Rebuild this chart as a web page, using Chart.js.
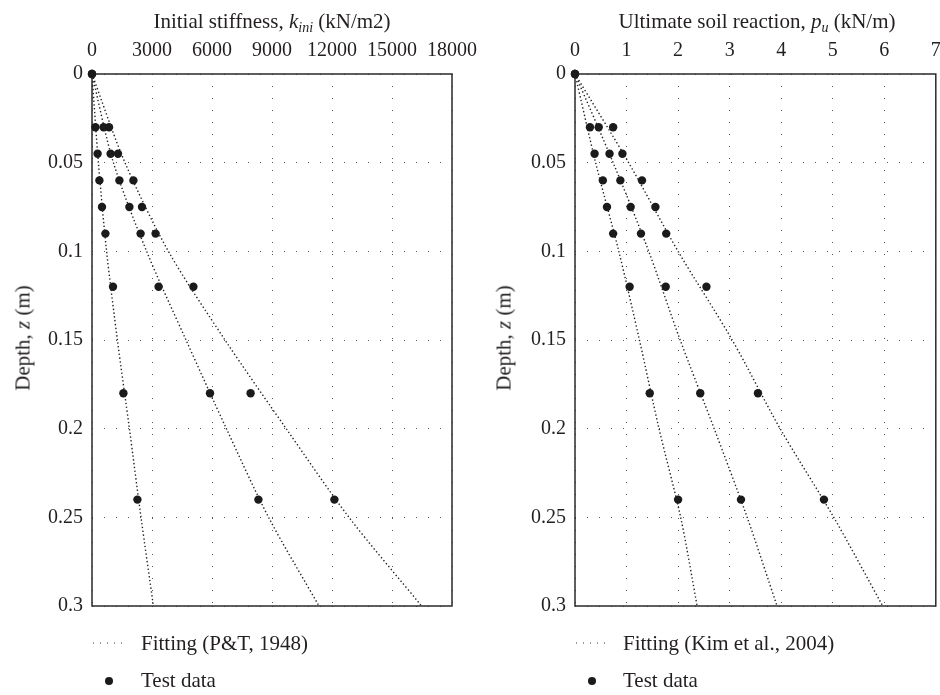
<!DOCTYPE html>
<html>
<head>
<meta charset="utf-8">
<script src="https://cdn.jsdelivr.net/npm/chart.js@4.4.0/dist/chart.umd.min.js"></script>
<style>
  body { margin: 0; background: #fff; font-family: 'Liberation Serif', serif; color: #231f20; }
  #page { position: relative; width: 940px; height: 695px; overflow: hidden; }
  .panel { position: absolute; top: 0; height: 695px; }
  .panel canvas { position: absolute; left: 0; top: 0; }
  .ttl { position: absolute; top: 9px; font-size: 21px; line-height: 24px; white-space: nowrap; transform: translateX(-50%); }
  .ttl sub { font-size: 14px; vertical-align: -4px; line-height: 0; }
  .ytl { position: absolute; top: 338px; font-size: 21px; white-space: nowrap; transform: translate(-50%, -50%) rotate(-90deg); }
  .leg { position: absolute; font-size: 21px; line-height: 22px; white-space: nowrap; transform: translateY(-50%); }
  .sample { position: absolute; transform: translate(-50%, -50%); }
</style>
</head>
<body>
<div id="page">
  <div class="panel" style="left:0;width:520px"><canvas id="kChart" width="520" height="695"></canvas></div>
  <div class="panel" style="left:470px;width:470px"><canvas id="pChart" width="470" height="695"></canvas></div>

  <div class="ttl" style="left:272px">Initial stiffness, <i>k<sub>ini</sub></i> (kN/m2)</div>
  <div class="ttl" style="left:757px">Ultimate soil reaction, <i>p<sub>u</sub></i> (kN/m)</div>
  <div class="ytl" style="left:23px">Depth, <i>z</i> (m)</div>
  <div class="ytl" style="left:504px">Depth, <i>z</i> (m)</div>

  <svg class="sample" style="left:110px;top:643px" width="36" height="4"><line x1="1" y1="2" x2="36" y2="2" stroke="#333" stroke-width="1.2" stroke-dasharray="1,6"/></svg>
  <div class="leg" style="left:141px;top:643px">Fitting (P&amp;T, 1948)</div>
  <svg class="sample" style="left:109px;top:681px" width="10" height="10"><circle cx="5" cy="5" r="4" fill="#1a1a1a"/></svg>
  <div class="leg" style="left:141px;top:680px">Test data</div>

  <svg class="sample" style="left:593px;top:643px" width="36" height="4"><line x1="1" y1="2" x2="36" y2="2" stroke="#333" stroke-width="1.2" stroke-dasharray="1,6"/></svg>
  <div class="leg" style="left:623px;top:643px">Fitting (Kim et al., 2004)</div>
  <svg class="sample" style="left:592px;top:681px" width="10" height="10"><circle cx="5" cy="5" r="4" fill="#1a1a1a"/></svg>
  <div class="leg" style="left:623px;top:680px">Test data</div>
</div>

<script>
// depths of the test points (m), origin included
const depths = [0, 0.03, 0.045, 0.06, 0.075, 0.09, 0.12, 0.18, 0.24];
const depthLabels = ['0', '0.05', '0.1', '0.15', '0.2', '0.25', '0.3'];

// initial stiffness test data (kN/m2)
const kTest1 = [0, 170, 280, 370, 500, 670, 1050, 1570, 2270];
const kTest2 = [0, 580, 930, 1370, 1870, 2430, 3330, 5900, 8320];
const kTest3 = [0, 850, 1300, 2070, 2500, 3180, 5070, 7930, 12120];

// ultimate soil reaction test data (kN/m)
const pTest1 = [0, 0.29, 0.38, 0.54, 0.62, 0.74, 1.06, 1.45, 2.0];
const pTest2 = [0, 0.46, 0.67, 0.88, 1.08, 1.28, 1.76, 2.43, 3.22];
const pTest3 = [0, 0.74, 0.92, 1.3, 1.56, 1.77, 2.55, 3.55, 4.83];

// fitting curves, read at these depths
const fitDepths = [0, 0.05, 0.1, 0.15, 0.2, 0.25, 0.3];
const kFit1 = [0, 320, 730, 1270, 1870, 2450, 3070];
const kFit2 = [0, 1070, 2730, 4700, 6720, 8830, 11350];
const kFit3 = [0, 1650, 3820, 6650, 9710, 12850, 16480];
const pFit1 = [0, 0.40, 0.85, 1.25, 1.63, 2.05, 2.37];
const pFit2 = [0, 0.74, 1.43, 2.04, 2.70, 3.34, 3.92];
const pFit3 = [0, 1.04, 2.0, 3.05, 3.98, 5.02, 5.97];

const kTicks = ['0', '3000', '6000', '9000', '12000', '15000', '18000'];
const pTicks = ['0', '1', '2', '3', '4', '5', '6', '7'];

const INK = '#231f20';
const tickFont = { family: 'Liberation Serif', size: 20 };

// solid box round the plot area
const frame = {
  id: 'frame',
  beforeDatasetsDraw(chart) {
    const a = chart.chartArea, ctx = chart.ctx;
    ctx.save();
    ctx.strokeStyle = '#2a2a2a';
    ctx.lineWidth = 1.5;
    ctx.strokeRect(a.left, a.top, a.right - a.left, a.bottom - a.top);
    ctx.restore();
  }
};

function pts(xs, ys) {
  return xs.map((v, i) => ({ x: v, y: ys[i] }));
}

function buildChart(id, o) {
  const fits = o.fits.map(f => ({
    data: pts(f, fitDepths), showLine: true, pointRadius: 0,
    borderColor: '#222', borderWidth: 1.4, borderDash: [1.4, 2.4], tension: 0.3
  }));
  const tests = o.tests.map(t => ({
    data: pts(t, depths), pointRadius: 4.2, pointHoverRadius: 4.2, clip: false,
    backgroundColor: '#1a1a1a', borderWidth: 0
  }));
  return new Chart(document.getElementById(id), {
    type: 'scatter',
    data: { datasets: fits.concat(tests) },
    plugins: [frame],
    options: {
      responsive: false, animation: false,
      layout: { padding: { left: 0, right: o.padRight, top: 0, bottom: 89 } },
      plugins: { legend: { display: false }, tooltip: { enabled: false } },
      scales: {
        x: {
          type: 'linear', position: 'top', min: 0, max: o.xMax,
          ticks: { stepSize: o.xStep, padding: 11, color: INK, font: tickFont, maxRotation: 0, autoSkip: false,
                   callback: (v, i) => o.xTicks[i] },
          grid: { color: '#555', lineWidth: 1, drawTicks: false },
          border: { display: false, dash: [1, 11] },
          afterFit(s) { s.height = 74; s.paddingLeft = 0; s.paddingRight = 0; }
        },
        y: {
          type: 'linear', reverse: true, min: 0, max: 0.3,
          ticks: { stepSize: 0.05, padding: 9, color: INK, font: tickFont, autoSkip: false,
                   callback: v => depthLabels[Math.round(v * 20)] },
          grid: { color: '#555', lineWidth: 1, drawTicks: false },
          border: { display: false, dash: [1, 11] },
          afterFit(s) { s.width = o.yWidth; s.paddingTop = 0; s.paddingBottom = 0; }
        }
      }
    }
  });
}

buildChart('kChart', {
  fits: [kFit1, kFit2, kFit3], tests: [kTest1, kTest2, kTest3],
  xMax: 18000, xStep: 3000, xTicks: kTicks, yWidth: 92, padRight: 68
});
buildChart('pChart', {
  fits: [pFit1, pFit2, pFit3], tests: [pTest1, pTest2, pTest3],
  xMax: 7, xStep: 1, xTicks: pTicks, yWidth: 105, padRight: 1
});
</script>
</body>
</html>
